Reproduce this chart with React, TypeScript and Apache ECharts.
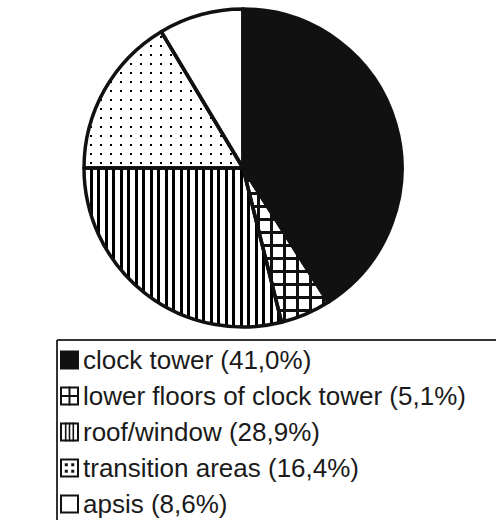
import React, { useEffect, useRef } from 'react';
import * as echarts from 'echarts';

const categories = ['clock tower', 'lower floors of clock tower', 'roof/window', 'transition areas', 'apsis'];
const shares = [41.0, 5.1, 28.9, 16.4, 8.6];

const W = 496;
const H = 520;

function fmt(v: number) {
  return v.toFixed(1).replace('.', ',');
}

export default function App() {
  const ref = useRef<HTMLDivElement>(null);
  useEffect(() => {
    const chart = echarts.init(ref.current!, null, { renderer: 'svg' });
    const base = { symbol: 'rect', symbolSize: 1, symbolKeepAspect: false, rotation: 0 };
    const decals: any[] = [
      null,
      { ...base, color: '#ffffff', dashArrayX: [10, 3], dashArrayY: [10, 3] },
      { ...base, color: '#000000', dashArrayX: [3, 4, 3, 5], dashArrayY: [20, 0] },
      { ...base, color: '#000000', dashArrayX: [2, 8], dashArrayY: [2, 7] },
      null,
    ];
    const fills = ['#111111', '#111111', '#ffffff', '#ffffff', '#ffffff'];

    const pieData = categories.map((name, i) => {
      const itemStyle: any = { color: fills[i] };
      if (decals[i]) itemStyle.decal = decals[i];
      return { name, value: shares[i], itemStyle };
    });
    const borderData = categories.map((name, i) => ({ name, value: shares[i] }));

    // legend drawn with graphic elements
    const lx = 60;
    const isz = 19;
    const tx = 83;
    const rowY = (i: number) => 360 + i * 36;
    const legendEls: any[] = [];
    legendEls.push({ type: 'line', shape: { x1: 57, y1: 340, x2: W, y2: 340 }, style: { stroke: '#333', lineWidth: 2 } });
    legendEls.push({ type: 'line', shape: { x1: 57, y1: 340, x2: 57, y2: H }, style: { stroke: '#333', lineWidth: 2 } });
    categories.forEach((name, i) => {
      const cy = rowY(i);
      const y0 = cy - isz / 2;
      const stroke = { stroke: '#111', lineWidth: 2 };
      if (i === 0) {
        legendEls.push({ type: 'rect', shape: { x: lx, y: y0, width: isz, height: isz }, style: { fill: '#111' } });
      } else {
        legendEls.push({ type: 'rect', shape: { x: lx + 1, y: y0 + 1, width: isz - 2, height: isz - 2 }, style: { fill: '#fff', ...stroke } });
      }
      if (i === 1) {
        legendEls.push({ type: 'line', shape: { x1: lx + isz / 2, y1: y0, x2: lx + isz / 2, y2: y0 + isz }, style: stroke });
        legendEls.push({ type: 'line', shape: { x1: lx, y1: cy, x2: lx + isz, y2: cy }, style: stroke });
      }
      if (i === 2) {
        [0.3, 0.5, 0.7].forEach((f) => {
          legendEls.push({ type: 'line', shape: { x1: lx + isz * f, y1: y0, x2: lx + isz * f, y2: y0 + isz }, style: { stroke: '#111', lineWidth: 1.6 } });
        });
      }
      if (i === 3) {
        [0.33, 0.67].forEach((fx) => {
          [0.33, 0.67].forEach((fy) => {
            legendEls.push({ type: 'rect', shape: { x: lx + isz * fx - 1.5, y: y0 + isz * fy - 1.5, width: 3, height: 3 }, style: { fill: '#111' } });
          });
        });
      }
      legendEls.push({
        type: 'text',
        x: tx,
        y: cy,
        style: {
          text: `${name} (${fmt(shares[i])}%)`,
          fill: '#1a1a1a',
          font: '26px "Liberation Sans", Arial, Helvetica, sans-serif',
          verticalAlign: 'middle',
          align: 'left',
        },
      });
    });

    chart.setOption({
      animation: false,
      backgroundColor: '#ffffff',
      series: [
        {
          type: 'pie',
          center: [243, 168],
          radius: 159,
          startAngle: 90,
          clockwise: true,
          silent: true,
          label: { show: false },
          labelLine: { show: false },
          emphasis: { disabled: true },
          itemStyle: { borderWidth: 0 },
          data: pieData,
          z: 2,
        },
        {
          type: 'pie',
          center: [243, 168],
          radius: 159,
          startAngle: 90,
          clockwise: true,
          silent: true,
          label: { show: false },
          labelLine: { show: false },
          emphasis: { disabled: true },
          itemStyle: { color: 'rgba(0,0,0,0)', borderColor: '#111', borderWidth: 3.5 },
          data: borderData,
          z: 3,
        },
      ],
      graphic: legendEls,
    });
    return () => chart.dispose();
  }, []);
  return <div ref={ref} style={{ position: 'fixed', left: 0, top: 0, width: W, height: H }} />;
}
